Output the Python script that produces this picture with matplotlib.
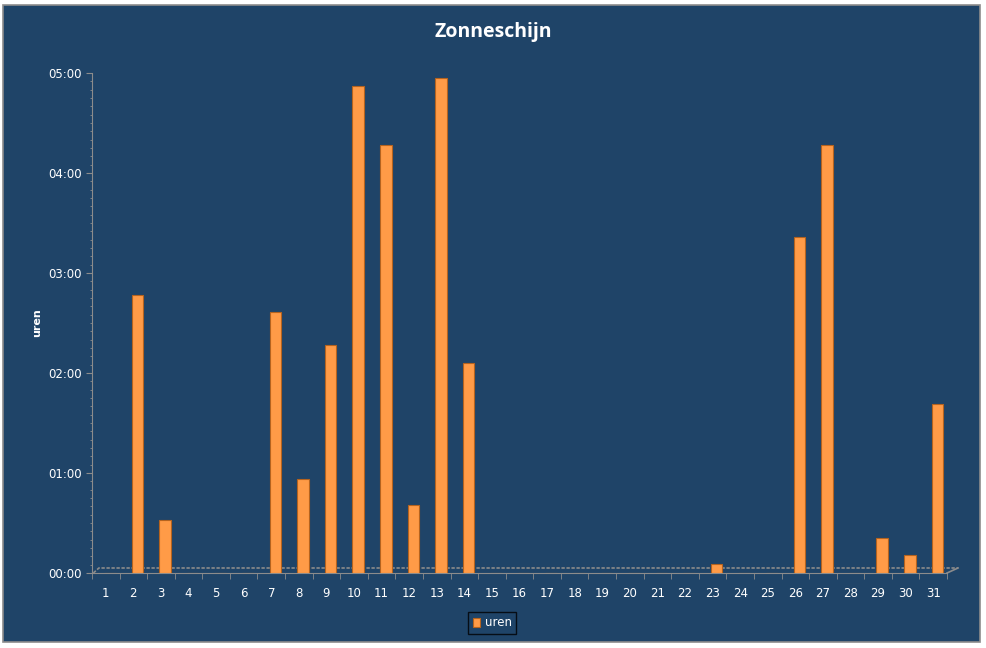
import matplotlib.pyplot as plt
from matplotlib.patches import Rectangle
from matplotlib.ticker import FuncFormatter, MultipleLocator

# dagen van de maand en zonneschijn in uren
days = list(range(1, 32))
hours = [0, 2.78, 0.53, 0, 0, 0, 2.61, 0.94, 2.28, 4.87, 4.28, 0.68, 4.95, 2.10,
         0, 0, 0, 0, 0, 0, 0, 0, 0.09, 0, 0, 3.36, 4.28, 0, 0.35, 0.18, 1.69]

bg = '#1F4468'
orange = '#FF9B47'
edge = '#B5631E'
grey = '#8C8C8C'

fig = plt.figure(figsize=(9.87, 6.48), dpi=100, facecolor='white')
fig.patches.append(Rectangle((3 / 987, 1 - 642 / 648), 977 / 987, 637 / 648,
                             transform=fig.transFigure, facecolor=bg,
                             edgecolor=grey, linewidth=1.2, zorder=-10))

ax = fig.add_axes([92 / 987, 1 - 573 / 648, 855 / 987, 500 / 648])
ax.set_facecolor('none')

xpos = [d + 0.15 for d in days]
bars = ax.bar(xpos, hours, width=0.42, color=orange, edgecolor=edge, linewidth=0.8, zorder=3)

ax.set_xlim(0.5, 31.5)
ax.set_ylim(0, 5)
ax.set_xticks(days)
ax.set_xticks([d + 0.5 for d in [0] + days], minor=True)
ax.tick_params(axis='x', which='major', length=0, pad=10, colors='white', labelsize=8.5)
ax.tick_params(axis='x', which='minor', length=4, color=grey)
ax.yaxis.set_major_locator(MultipleLocator(1))
ax.yaxis.set_minor_locator(MultipleLocator(1 / 12))
ax.yaxis.set_major_formatter(FuncFormatter(lambda v, p: '%02d:%02d' % (int(v), round((v % 1) * 60))))
ax.tick_params(axis='y', which='major', length=4, color=grey, colors='white', labelsize=8.5)
ax.tick_params(axis='y', which='minor', length=1.5, color=grey)

for s in ['top', 'right']:
    ax.spines[s].set_visible(False)
ax.spines['left'].set_color(grey)
ax.spines['left'].set_linestyle((0, (2, 1)))
ax.spines['bottom'].set_color(grey)
ax.spines['bottom'].set_linestyle((0, (2, 1)))

# 3D vloer
ax.plot([0.55, 0.75, 31.9], [0.0, 0.05, 0.05], color=grey, lw=1.2, ls=(0, (2, 1)),
        clip_on=False, zorder=2)
ax.plot([31.5, 31.9], [0.0, 0.05], color=grey, lw=1.2, clip_on=False, zorder=2)

ax.set_ylabel('uren', color='white', fontsize=8, fontweight='bold')
ax.yaxis.set_label_coords(-0.058, 0.5)
fig.text(493 / 987, 1 - 32 / 648, 'Zonneschijn', color='white', fontsize=14,
         fontweight='bold', family='Open Sans', ha='center', va='center')

leg = ax.legend([bars], ['uren'], loc='center', bbox_to_anchor=(0.468, -0.1), frameon=True,
                fontsize=8.5, handlelength=0.6, handleheight=0.8, handletextpad=0.4,
                borderpad=0.4, fancybox=False)
leg.get_frame().set_facecolor(bg)
leg.get_frame().set_edgecolor('black')
for t in leg.get_texts():
    t.set_color('white')

fig.savefig('out.png', dpi=100, facecolor='white')
